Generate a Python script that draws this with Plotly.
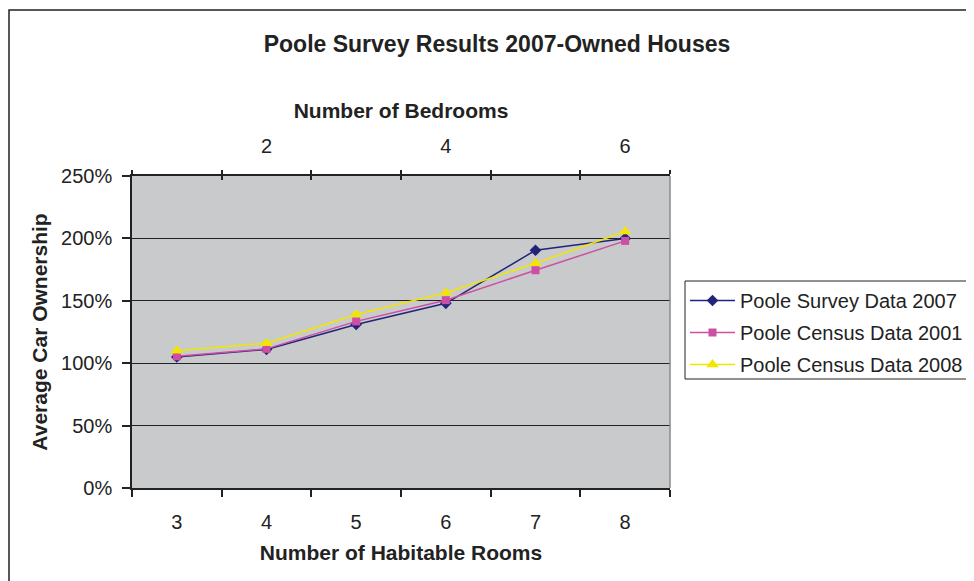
import plotly.graph_objects as go

rooms = [3, 4, 5, 6, 7, 8]
bedrooms = [1, 2, 3, 4, 5, 6]
bedroom_labels = ["2", "4", "6"]
bedroom_ticks = [2, 4, 6]

survey_2007 = [1.05, 1.11, 1.31, 1.48, 1.905, 2.00]
census_2001 = [1.055, 1.115, 1.335, 1.505, 1.745, 1.98]
census_2008 = [1.10, 1.16, 1.39, 1.565, 1.80, 2.055]

y_ticks = [0, 0.5, 1.0, 1.5, 2.0, 2.5]

FONT = "Liberation Sans, Arial, sans-serif"
INK = "#222222"
NAVY = "#23237A"
PINK = "#CC4FA6"
YELLOW = "#F2E600"

# figure coords (page has an 8px body margin)
W, H = 966, 573
L, R, T, B = 124, 304, 168, 93
PW, PH = W - L - R, H - T - B

fig = go.Figure()

series = [
    ("Poole Survey Data 2007", survey_2007, NAVY, "diamond", 9),
    ("Poole Census Data 2001", census_2001, PINK, "square", 8),
    ("Poole Census Data 2008", census_2008, YELLOW, "triangle-up", 11),
]
for name, vals, color, sym, size in series:
    fig.add_trace(go.Scatter(
        x=rooms, y=vals, name=name, mode="lines+markers",
        line=dict(color=color, width=1.5),
        marker=dict(symbol=sym, size=size, color=color),
        legendgroup=name,
    ))

# invisible traces so the top bedroom axes are drawn
fig.add_trace(go.Scatter(x=bedrooms, y=[None] * len(bedrooms), xaxis="x2",
                         showlegend=False, hoverinfo="skip"))
fig.add_trace(go.Scatter(x=bedrooms, y=[None] * len(bedrooms), xaxis="x3",
                         showlegend=False, hoverinfo="skip"))

boundaries = [r - 0.5 for r in rooms] + [rooms[-1] + 0.5]
bed_bounds = [b - 0.5 for b in bedrooms] + [bedrooms[-1] + 0.5]

fig.update_layout(
    width=W, height=H,
    paper_bgcolor="white",
    plot_bgcolor="#C9CACC",
    font=dict(family=FONT, size=20, color=INK),
    margin=dict(l=L, r=R, t=T, b=B, autoexpand=False),
    title=dict(
        text="<b>Poole Survey Results 2007-Owned Houses</b>",
        x=489 / W, xanchor="center", y=1 - 36 / H, yanchor="middle",
        font=dict(size=23, color=INK),
    ),
    xaxis=dict(
        range=[2.5, 8.5], tickvals=rooms, ticktext=[str(r) for r in rooms],
        ticks="outside", ticklen=7, tickcolor="rgba(0,0,0,0)",
        ticklabelstandoff=8,
        minor=dict(tickmode="array", tickvals=boundaries, ticks="outside",
                   ticklen=7, tickcolor=INK, tickwidth=1.5, showgrid=False),
        showline=True, linecolor=INK, linewidth=1.5,
        showgrid=False, zeroline=False,
        title=dict(text="<b>Number of Habitable Rooms</b>", standoff=14,
                   font=dict(size=21)),
    ),
    xaxis2=dict(
        overlaying="x", side="top", range=[0.5, 6.5],
        tickvals=bedroom_ticks, ticktext=bedroom_labels,
        ticks="outside", ticklen=4, tickcolor="rgba(0,0,0,0)",
        ticklabelstandoff=9,
        minor=dict(tickmode="array", tickvals=bed_bounds, ticks="outside",
                   ticklen=4, tickcolor=INK, tickwidth=1.5, showgrid=False),
        showline=True, linecolor=INK, linewidth=1.5,
        showgrid=False, zeroline=False,
        title=dict(text="<b>Number of Bedrooms</b>", standoff=11,
                   font=dict(size=21)),
    ),
    xaxis3=dict(
        overlaying="x", side="top", range=[0.5, 6.5],
        tickvals=bed_bounds, ticktext=[""] * len(bed_bounds),
        ticks="inside", ticklen=4, tickcolor=INK, tickwidth=1.5,
        showgrid=False, zeroline=False, showline=False,
    ),
    yaxis=dict(
        range=[0, 2.5], tickvals=y_ticks, tickformat=".0%",
        ticks="outside", ticklen=8, tickcolor=INK, tickwidth=1.5,
        ticklabelstandoff=6,
        showline=True, linecolor=INK, linewidth=1.5,
        showgrid=True, gridcolor=INK, gridwidth=1.2, zeroline=False,
        title=dict(text="<b>Average Car Ownership</b>", standoff=8,
                   font=dict(size=21)),
    ),
    legend=dict(
        x=(677 - L) / PW, xanchor="left",
        y=(PH + T - 273) / PH, yanchor="top",
        bgcolor="rgba(0,0,0,0)", borderwidth=0,
        font=dict(size=20, color=INK),
        itemwidth=45,
        traceorder="grouped", tracegroupgap=3,
    ),
    shapes=[
        dict(type="line", xref="paper", yref="paper", x0=1, x1=1, y0=0, y1=1,
             line=dict(color="#8A8A8A", width=1.5)),
        # legend frame, running off the right edge like the original
        dict(type="rect", xref="paper", yref="paper",
             x0=(677 - L) / PW, x1=(W + 30 - L) / PW,
             y0=(PH + T - 371) / PH, y1=(PH + T - 273) / PH,
             line=dict(color=INK, width=1)),
        # outer chart frame
        dict(type="rect", xref="paper", yref="paper",
             x0=(1 - L) / PW, x1=(W + 20 - L) / PW,
             y0=-0.5, y1=(PH + T - 2) / PH,
             line=dict(color=INK, width=1.5)),
    ],
    showlegend=True,
)

fig.write_html("out.html")
